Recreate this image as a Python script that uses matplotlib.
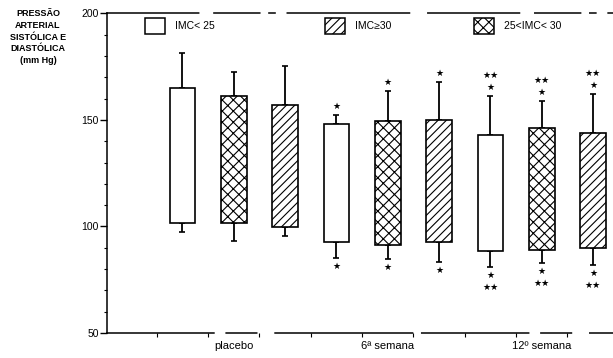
import matplotlib.pyplot as plt
from matplotlib.patches import Rectangle

plt.rcParams['font.family'] = ['Liberation Sans', 'DejaVu Sans']

# data (mm Hg)
groups = ["placebo", "6ª semana", "12º semana"]
series = ["IMC< 25", "25<IMC< 30", "IMC≥30"]
hatches = ["", "xxx", "////"]
systolic = [164.8, 161.4, 157.0, 148.0, 149.5, 150.0, 143.0, 146.1, 143.7]
diastolic = [101.8, 101.5, 99.7, 92.9, 91.4, 92.9, 88.6, 89.0, 89.9]
sys_sd = [181.5, 172.6, 175.3, 152.3, 163.7, 167.6, 161.2, 158.9, 162.0]
dia_sd = [97.3, 93.4, 95.3, 85.1, 84.8, 83.5, 80.9, 82.8, 82.0]
sig_top = ["", "", "", "★", "★", "★", "★★\n★", "★★\n★", "★★\n★"]
sig_bot = ["", "", "", "★", "★", "★", "★\n★★", "★\n★★", "★\n★★"]

fig = plt.figure(figsize=(6.13, 3.58), dpi=100)
ax = fig.add_axes([0.1746, 0.0698, 0.8254, 0.893])

x = list(range(len(systolic)))
heights = [s - d for s, d in zip(systolic, diastolic)]
bar_hatch = [hatches[i % 3] for i in x]

plt.rcParams['hatch.linewidth'] = 0.8
ax.bar(x, heights, bottom=diastolic, width=0.5, color='white',
       edgecolor='black', linewidth=1.2, hatch=bar_hatch, zorder=3)

# whiskers: up from systolic, down from diastolic
up = [t - s for t, s in zip(sys_sd, systolic)]
dn = [d - b for d, b in zip(diastolic, dia_sd)]
ax.errorbar(x, systolic, yerr=[[0] * len(x), up], fmt='none', ecolor='black',
            elinewidth=1.3, capsize=2, capthick=1.2, zorder=2)
ax.errorbar(x, diastolic, yerr=[dn, [0] * len(x)], fmt='none', ecolor='black',
            elinewidth=1.3, capsize=2.5, capthick=1.2, zorder=2)

for xi, t, b, st, sb in zip(x, sys_sd, dia_sd, sig_top, sig_bot):
    if st:
        ax.annotate(st, (xi, t), xytext=(0, 3), textcoords='offset points',
                    ha='center', va='bottom', fontsize=6.5, linespacing=1.4,
                    family='DejaVu Sans')
    if sb:
        ax.annotate(sb, (xi, b), xytext=(0, -3), textcoords='offset points',
                    ha='center', va='top', fontsize=6.5, linespacing=1.4,
                    family='DejaVu Sans')

ax.set_ylim(50, 200)
ax.set_xlim(-1.47, 8.39)
ax.set_yticks([50, 100, 150, 200])
ax.set_yticks(range(60, 200, 10), minor=True)
ax.set_xticks([1, 4, 7])
ax.set_xticklabels(groups, fontsize=8)
ax.set_xticks([i - 0.5 for i in range(9)], minor=True)
ax.tick_params(axis='y', which='major', length=5, width=1, labelsize=7.5, pad=1)
ax.tick_params(axis='y', which='minor', length=2.5, width=0.8)
ax.tick_params(axis='x', which='major', length=0, pad=6)
ax.tick_params(axis='x', which='minor', length=3, width=0.8)

ax.spines['right'].set_visible(False)
for side in ['left', 'bottom', 'top']:
    ax.spines[side].set_linewidth(1.1)
ax.spines['top'].set_linestyle((0, (60, 10, 30, 6, 4, 8, 80, 12)))
ax.spines['bottom'].set_linestyle((0, (70, 8, 20, 12, 90, 6)))

# legend drawn as boxes + labels along the top
leg = [(0.075, "", series[0]), (0.43, "////", series[2]), (0.725, "xxx", series[1])]
for lx, h, lab in leg:
    ax.add_patch(Rectangle((lx, 0.935), 0.04, 0.05, transform=ax.transAxes,
                           facecolor='white', edgecolor='black', linewidth=1.1,
                           hatch=h, clip_on=False))
    ax.text(lx + 0.06, 0.96, lab, transform=ax.transAxes, fontsize=7.5,
            va='center', ha='left')

fig.text(0.062, 0.975, "PRESSÃO\nARTERIAL\nSISTÓLICA E\nDIASTÓLICA\n(mm Hg)",
         ha='center', va='top', fontsize=6.5, linespacing=1.4, weight='bold')

fig.savefig("out.png", dpi=100)
